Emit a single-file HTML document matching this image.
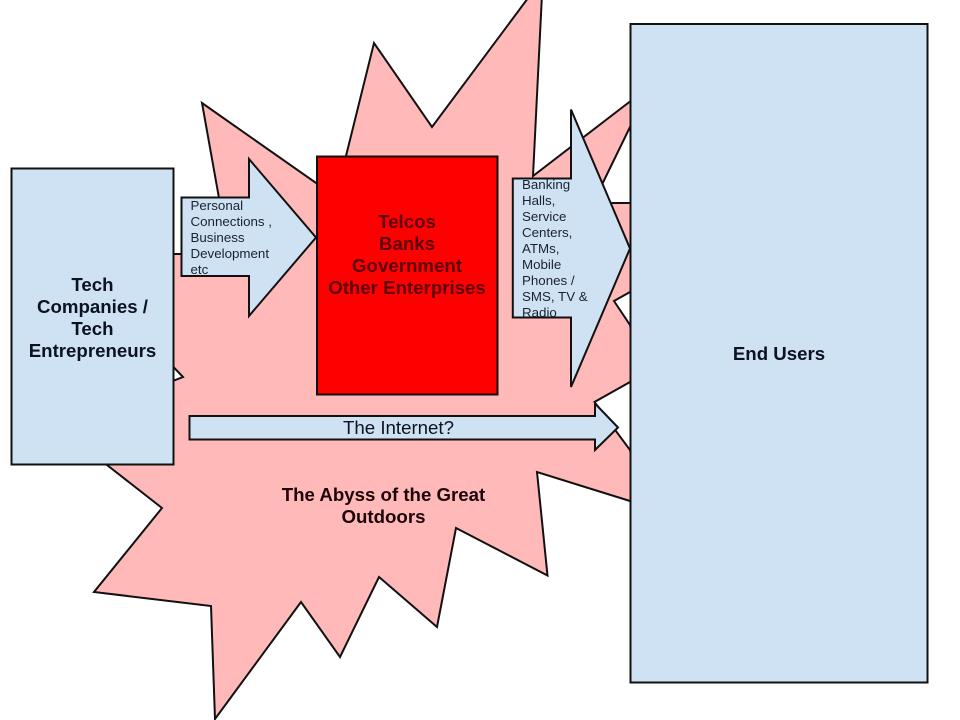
<!DOCTYPE html>
<html>
<head>
<meta charset="utf-8">
<style>
html,body{margin:0;padding:0;background:#fff;width:960px;height:720px;overflow:hidden}
svg{display:block}
text{font-family:"Liberation Sans",sans-serif}
.b{font-weight:bold;font-size:18.67px;fill:#0c1220;text-anchor:middle}
.s{font-size:13.33px;fill:#1a2230}
.shape{stroke:#111;stroke-width:2;stroke-linejoin:miter}
</style>
</head>
<body>
<svg width="960" height="720" viewBox="0 0 960 720" xmlns="http://www.w3.org/2000/svg">
<polygon class="shape" fill="#ffb9b9" stroke-linejoin="round" points="202,103 336,197 346,156 374,43 432,127 540,-18 542.6,-18 533,176 630,101.5 640,110 630,127 593,203 640,203 640,285 630,292 614,301 630,325 640,375 630,382 594.5,402 630,450 640,505 630,501 537,472 547.5,575.5 456,528 437,627 379,577 340,657 301,602 215,719 211,606 94,592 162,508 107,465 60,425 183,377 100,290 60,254 229,254"/>
<rect class="shape" x="11.5" y="168.5" width="162" height="296" fill="#cfe2f3"/>
<rect class="shape" x="317" y="156.5" width="180.5" height="238" fill="#ff0000"/>
<rect class="shape" x="630.5" y="24" width="297" height="658.5" fill="#cfe2f3"/>
<polygon class="shape" fill="#cfe2f3" points="181.5,197.5 249,197.5 249,159 316,237.5 249,316 249,276 181.5,276"/>
<polygon class="shape" fill="#cfe2f3" points="512.8,178.5 571,178.5 571,109.5 630,248.5 571,387 571,317.5 512.8,317.5"/>
<polygon class="shape" fill="#cfe2f3" points="189.5,416 595,416 595,403.5 618,427.5 595,450 595,439.5 189.5,439.5"/>
<text class="b" x="92.5" y="291">Tech</text>
<text class="b" x="92.5" y="313">Companies /</text>
<text class="b" x="92.5" y="335">Tech</text>
<text class="b" x="92.5" y="357">Entrepreneurs</text>
<g style="font-weight:bold;font-size:18.67px;text-anchor:middle;fill:#5c0008">
<text x="407" y="228">Telcos</text>
<text x="407" y="250">Banks</text>
<text x="407" y="272">Government</text>
<text x="407" y="294">Other Enterprises</text>
</g>
<text class="b" x="779" y="360">End Users</text>
<g style="font-weight:bold;font-size:18.67px;text-anchor:middle;fill:#1c0508">
<text x="383.5" y="501">The Abyss of the Great</text>
<text x="383.5" y="523">Outdoors</text>
</g>
<text x="343" y="434" style="font-size:18.67px;fill:#0c1220">The Internet?</text>
<text class="s" x="190.5" y="210">Personal</text>
<text class="s" x="190.5" y="226">Connections ,</text>
<text class="s" x="190.5" y="242">Business</text>
<text class="s" x="190.5" y="258">Development</text>
<text class="s" x="190.5" y="274">etc</text>
<text class="s" x="522" y="189">Banking</text>
<text class="s" x="522" y="205">Halls,</text>
<text class="s" x="522" y="221">Service</text>
<text class="s" x="522" y="237">Centers,</text>
<text class="s" x="522" y="253">ATMs,</text>
<text class="s" x="522" y="269">Mobile</text>
<text class="s" x="522" y="285">Phones /</text>
<text class="s" x="522" y="301">SMS, TV &amp;</text>
<text class="s" x="522" y="317">Radio</text>
</svg>
</body>
</html>
